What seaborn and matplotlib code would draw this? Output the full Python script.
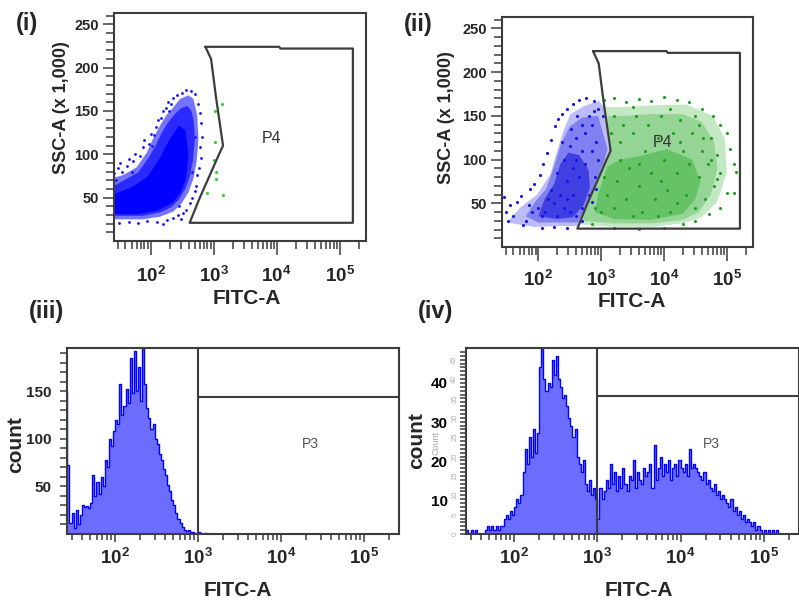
import numpy as np
import matplotlib
matplotlib.use('Agg')
import matplotlib.pyplot as plt
import seaborn as sns
from matplotlib.ticker import FixedLocator, FixedFormatter, NullFormatter

sns.set_theme(style='ticks')
plt.rcParams['font.family'] = ['Liberation Sans', 'DejaVu Sans']
plt.rcParams['mathtext.fontset'] = 'custom'
plt.rcParams['mathtext.rm'] = 'Liberation Sans'
plt.rcParams['mathtext.bf'] = 'Liberation Sans:bold'

# ---- data (x values are log10 FITC-A) ----
# P4 gate polygon (log10 FITC-A, SSC-A x1000)
gate_x = [2.87, 2.96, 3.04, 3.15, 3.08, 2.77, 2.62, 5.21, 5.21, 4.06, 4.04, 2.87]
gate_y = [224, 210, 165, 110, 99, 48, 21, 21, 222, 222, 224, 224]

# panel (i) - unstained cells: density layers of the blue cloud, stray dots
i_outer_x = [1.37, 1.37, 1.565, 1.78, 1.94, 2.04, 2.15, 2.25, 2.36, 2.47, 2.60, 2.68, 2.74, 2.76, 2.73,
             2.68, 2.60, 2.49, 2.36, 2.15, 1.88, 1.565]
i_outer_y = [25, 72, 76, 85, 102, 118, 133, 145, 154, 164, 168, 164, 145, 118, 91, 72, 56, 43, 34, 28, 25, 25]
i_mid_x = [1.38, 1.38, 1.58, 1.80, 1.97, 2.08, 2.18, 2.28, 2.38, 2.48, 2.58, 2.65, 2.69, 2.70, 2.67, 2.62,
           2.55, 2.45, 2.33, 2.15, 1.88, 1.60]
i_mid_y = [29, 62, 70, 79, 96, 110, 125, 137, 146, 153, 156, 150, 135, 115, 92, 74, 60, 48, 39, 33, 29, 29]
i_core_x = [1.42, 1.42, 1.70, 1.95, 2.15, 2.30, 2.45, 2.55, 2.60, 2.56, 2.48, 2.35, 2.10, 1.80]
i_core_y = [31, 54, 62, 74, 96, 117, 133, 128, 100, 72, 56, 44, 35, 31]
i_blue_dots = [(1.42, 78), (1.40, 92), (1.48, 84), (1.55, 80), (1.52, 90), (1.62, 86), (1.66, 95), (1.72, 92),
               (1.76, 100), (1.84, 98), (1.88, 108), (1.90, 116), (1.97, 112), (2.00, 124), (2.05, 122),
               (2.08, 132), (2.12, 140), (2.17, 142), (2.20, 150), (2.24, 153), (2.28, 160), (2.33, 158),
               (2.36, 165), (2.42, 168), (2.50, 171), (2.56, 174), (2.64, 173), (2.70, 169), (2.76, 158),
               (2.78, 148), (2.80, 136), (2.82, 120), (2.79, 108), (2.80, 96), (2.77, 84), (2.74, 76),
               (2.72, 64), (2.70, 58), (2.66, 50), (2.62, 44), (2.56, 36), (2.52, 32), (2.44, 30), (2.36, 27),
               (2.26, 24), (2.10, 22), (1.95, 23), (1.80, 21), (1.66, 22), (1.50, 21), (2.48, 25), (2.20, 20),
               (1.45, 70), (1.70, 80), (2.02, 110), (2.30, 150), (2.71, 120), (2.66, 80), (2.45, 40)]
i_green_dots = [(3.13, 158), (3.02, 150), (3.02, 114), (3.00, 93), (3.04, 80), (3.04, 72), (2.89, 55), (3.15, 53)]

# panel (ii) - stained cells: blue (left of gate) and green (inside P4) density layers
ii_blue_outer_x = [1.50, 1.71, 1.98, 2.19, 2.30, 2.40, 2.51, 2.72, 2.96, 3.04, 3.13, 3.06, 2.76, 2.62, 2.35, 1.93]
ii_blue_outer_y = [28, 45, 60, 83, 110, 133, 152, 161, 167, 160, 110, 99, 48, 24, 24, 23]
ii_blue_mid_x = [1.80, 1.95, 2.12, 2.25, 2.36, 2.50, 2.70, 2.95, 3.10, 3.05, 2.77, 2.63, 2.30, 2.00]
ii_blue_mid_y = [35, 52, 66, 92, 118, 138, 148, 150, 112, 99, 50, 28, 28, 28]
ii_blue_core_x = [2.00, 2.10, 2.25, 2.35, 2.48, 2.65, 2.80, 2.82, 2.72, 2.55, 2.30]
ii_blue_core_y = [35, 55, 72, 95, 108, 105, 88, 68, 48, 34, 32]
ii_green_outer_x = [3.05, 3.15, 3.08, 2.77, 2.64, 3.20, 3.80, 4.30, 4.60, 4.85, 5.00, 4.97, 4.78, 4.35, 3.80, 3.35]
ii_green_outer_y = [160, 110, 99, 48, 26, 23, 23, 27, 34, 52, 85, 123, 150, 163, 162, 160]
ii_green_mid_x = [3.10, 3.13, 3.06, 2.80, 2.70, 3.20, 3.80, 4.30, 4.55, 4.75, 4.85, 4.80, 4.60, 4.30, 3.80, 3.40]
ii_green_mid_y = [150, 110, 99, 52, 30, 27, 27, 31, 40, 60, 90, 120, 143, 152, 152, 150]
ii_green_core_x = [3.10, 2.95, 2.90, 3.20, 3.78, 4.30, 4.50, 4.58, 4.45, 4.05, 3.62, 3.31]
ii_green_core_y = [92, 60, 40, 32, 31, 38, 55, 75, 100, 112, 104, 100]
ii_blue_dots = [(1.45, 57), (1.48, 40), (1.55, 48), (1.60, 35), (1.66, 52), (1.72, 58), (1.80, 30), (1.86, 66),
                (1.93, 72), (2.02, 82), (2.08, 95), (2.14, 108), (2.20, 122), (2.26, 138), (2.31, 146),
                (2.38, 152), (2.46, 158), (2.55, 163), (2.64, 168), (2.76, 170), (2.88, 167), (2.95, 158),
                (3.03, 150), (2.45, 22), (2.25, 23), (2.05, 22), (1.75, 25), (1.52, 30), (2.70, 30), (2.85, 52),
                (2.92, 66), (2.00, 45), (2.10, 40), (2.25, 50), (2.35, 60), (2.45, 75), (2.55, 90), (2.60, 100),
                (2.70, 110), (2.75, 130), (2.85, 140), (2.92, 120), (2.95, 100), (2.90, 80), (2.80, 60),
                (2.70, 45), (2.60, 35), (2.50, 40), (2.40, 45), (2.30, 35), (2.20, 65), (2.30, 85), (2.40, 100),
                (2.50, 115), (2.60, 125), (2.70, 140), (2.80, 150), (2.88, 155), (2.65, 80), (2.55, 60),
                (2.45, 55), (2.15, 55), (2.05, 35), (1.90, 40), (1.85, 48), (2.38, 120), (2.52, 135),
                (2.62, 150), (2.75, 95), (2.85, 110)]
ii_green_dots = [(3.05, 168), (3.20, 170), (3.40, 166), (3.60, 169), (3.80, 167), (4.00, 171), (4.20, 168),
                 (4.40, 166), (4.60, 158), (4.78, 150), (4.90, 140), (5.00, 130), (5.05, 112), (5.12, 95),
                 (5.15, 86), (5.12, 62), (5.00, 62), (4.90, 45), (4.72, 38), (4.50, 30), (4.30, 26), (4.00, 22),
                 (3.60, 21), (3.20, 22), (2.85, 26), (4.62, 125), (4.75, 100), (4.85, 78), (3.50, 160),
                 (4.10, 158), (3.10, 60), (3.20, 45), (3.25, 75), (3.30, 120), (3.35, 140), (3.40, 55),
                 (3.45, 90), (3.50, 130), (3.55, 150), (3.60, 70), (3.65, 40), (3.70, 110), (3.75, 140),
                 (3.80, 85), (3.85, 55), (3.90, 125), (3.95, 150), (4.00, 100), (4.05, 65), (4.10, 40),
                 (4.15, 130), (4.20, 85), (4.25, 145), (4.30, 110), (4.35, 60), (4.40, 95), (4.45, 130),
                 (4.50, 150), (4.55, 80), (4.60, 110), (4.65, 55), (4.70, 95), (4.75, 125), (4.80, 70),
                 (4.85, 105), (4.90, 85), (3.00, 40), (3.15, 130), (3.20, 150), (3.50, 35), (3.90, 35),
                 (4.20, 50), (4.50, 45), (3.30, 100), (3.60, 95), (3.95, 75), (4.25, 120), (4.55, 140),
                 (2.90, 45), (3.05, 80)]

# histograms: bins of 0.025 decades starting at 10^1.40
bin_w = 0.025
hist_start = 1.40
iii_counts = [150, 72, 12, 22, 6, 25, 10, 20, 30, 28, 29, 27, 33, 62, 40, 55, 42, 60, 50, 78,
              70, 100, 92, 108, 120, 116, 158, 125, 135, 152, 138, 185, 148, 192, 150, 176, 140, 195, 158, 132,
              122, 110, 116, 100, 95, 84, 78, 68, 62, 52, 45, 36, 30, 22, 16, 12, 7, 4, 3, 4,
              2, 2, 1, 0, 2, 1, 0, 1, 0]
iv_counts = [0, 1, 0, 1, 0, 1, 0, 0, 0, 0, 1, 2, 1, 2, 1, 2, 1, 2, 2, 4,
             5, 4, 6, 5, 7, 9, 8, 10, 16, 22, 18, 25, 20, 27, 21, 26, 43, 48, 40, 37,
             39, 38, 45, 41, 46, 40, 38, 35, 36, 33, 30, 28, 25, 27, 20, 18, 16, 19, 13, 11,
             14, 10, 12, 9, 4, 12, 9, 11, 14, 12, 18, 13, 16, 11, 15, 12, 17, 13, 11, 15,
             14, 19, 12, 16, 14, 13, 17, 15, 16, 18, 12, 23, 14, 17, 20, 15, 18, 16, 19, 14,
             17, 18, 15, 19, 17, 16, 18, 15, 22, 17, 18, 17, 16, 15, 14, 16, 13, 14, 12, 11,
             13, 10, 11, 9, 10, 9, 8, 7, 9, 6, 7, 5, 6, 4, 5, 3, 4, 3, 2, 3,
             1, 2, 1, 0, 1, 0, 1, 0, 1, 0, 1]
p3_gate_x = 1e3
iii_gate_y = 144
iv_gate_y = 35.5

decades = [1e2, 1e3, 1e4, 1e5]
decade_labels = [r'$\mathbf{10^{2}}$', r'$\mathbf{10^{3}}$', r'$\mathbf{10^{4}}$', r'$\mathbf{10^{5}}$']
minor_ticks = [m * 10.0 ** d for d in range(1, 6) for m in range(2, 10)]
x_lo, x_hi = 10 ** 1.42, 10 ** 5.418

BOX = '#3c3c3c'
W, H = 799, 606


def px_rect(l, t, r, b):
    return [l / W, 1 - b / H, (r - l) / W, (b - t) / H]


def ftext(x, y, s, **kw):
    fig.text(x / W, 1 - y / H, s, ha='center', va='center', **kw)


def style_box(ax):
    for s in ax.spines.values():
        s.set_color(BOX)
        s.set_linewidth(1.5)
    ax.tick_params(which='both', direction='out', color=BOX, width=1.1)
    ax.set_xlabel('')
    ax.set_ylabel('')


def fitc_axis(ax, major_len, minor_len, size, pad):
    ax.set_xscale('log')
    ax.set_xlim(x_lo, x_hi)
    ax.xaxis.set_major_locator(FixedLocator(decades))
    ax.xaxis.set_major_formatter(FixedFormatter(decade_labels))
    ax.xaxis.set_minor_locator(FixedLocator(minor_ticks))
    ax.xaxis.set_minor_formatter(NullFormatter())
    ax.tick_params(axis='x', which='major', length=major_len, labelsize=size, pad=pad)
    ax.tick_params(axis='x', which='minor', length=minor_len)


def ssc_axis(ax):
    ax.set_ylim(0, 263)
    ax.set_yticks([50, 100, 150, 200, 250])
    ax.set_yticklabels(['50', '100', '150', '200', '250'], fontweight='bold', fontsize=10.5)
    ax.yaxis.set_minor_locator(FixedLocator([v for v in range(0, 261, 10) if v % 50]))
    ax.tick_params(axis='y', which='major', length=8, pad=3)
    ax.tick_params(axis='y', which='minor', length=6)


def dot_plot(ax, layers, dots, label_pad):
    ax.set_xscale('log')
    for xs, ys, col in layers:
        ax.fill(10 ** np.array(xs), ys, color=col, lw=0, zorder=1)
    for pts, col, size in dots:
        arr = np.array(pts)
        sns.scatterplot(x=10 ** arr[:, 0], y=arr[:, 1], ax=ax, color=col, s=size,
                        linewidth=0, zorder=2)
    ax.plot(10 ** np.array(gate_x), gate_y, color=BOX, lw=1.6, zorder=3)
    fitc_axis(ax, 10, 6, 13.5, label_pad)
    ssc_axis(ax)
    style_box(ax)


def histogram(ax, counts, ymax, gate_y):
    n = len(counts)
    edges = hist_start + bin_w * np.arange(n + 1)
    centers = edges[:-1] + bin_w / 2
    sns.histplot(x=10 ** centers, weights=counts, bins=list(edges), log_scale=True, element='step',
                 fill=True, color='#6c6cff', alpha=1, edgecolor='#0000ff', linewidth=1.0, ax=ax)
    ax.axvline(p3_gate_x, color=BOX, lw=1.5)
    ax.plot([p3_gate_x, x_hi], [gate_y, gate_y], color=BOX, lw=1.5)
    ax.set_ylim(0, ymax)
    fitc_axis(ax, 6, 4.5, 13.5, 4)
    style_box(ax)


fig = plt.figure(figsize=(W / 100, H / 100), dpi=100)

# (i)
ax1 = fig.add_axes(px_rect(114, 13, 366, 241))
dot_plot(ax1,
         [(i_outer_x, i_outer_y, '#7474ff'), (i_mid_x, i_mid_y, '#2a2aff'), (i_core_x, i_core_y, '#0000ff')],
         [(i_blue_dots, '#1010ff', 4), (i_green_dots, '#33cc33', 5)], 8)
ax1.text(10 ** 3.92, 118, 'P4', fontsize=11.5, color='#333333', ha='center', va='center')

# (ii)
ax2 = fig.add_axes(px_rect(502, 17, 753, 247))
dot_plot(ax2,
         [(ii_blue_outer_x, ii_blue_outer_y, '#bcbcfa'), (ii_blue_mid_x, ii_blue_mid_y, '#8080f0'),
          (ii_blue_core_x, ii_blue_core_y, '#4040e2'),
          (ii_green_outer_x, ii_green_outer_y, '#c4e8c4'), (ii_green_mid_x, ii_green_mid_y, '#94d494'),
          (ii_green_core_x, ii_green_core_y, '#66c266')],
         [(ii_blue_dots, '#1414ee', 5), (ii_green_dots, '#1f9f1f', 5)], 6.5)
ax2.text(10 ** 3.97, 119, 'P4', fontsize=11.5, color='#333333', ha='center', va='center')

# (iii)
ax3 = fig.add_axes(px_rect(67, 348, 399, 534))
histogram(ax3, iii_counts, 195.5, iii_gate_y)
ax3.set_yticks([50, 100, 150])
ax3.set_yticklabels(['50', '100', '150'], fontweight='bold', fontsize=11)
ax3.yaxis.set_minor_locator(FixedLocator([v for v in range(10, 191, 10) if v % 50]))
ax3.tick_params(axis='y', which='both', length=5, pad=6)
ax3.text(10 ** 4.35, 95, 'P3', fontsize=10, color='#555555', ha='center', va='center')

# (iv)
ax4 = fig.add_axes(px_rect(466, 348, 798.5, 534))
histogram(ax4, iv_counts, 48, iv_gate_y)
ax4.set_yticks(range(0, 46, 5))
ax4.set_yticklabels([str(v) for v in range(0, 46, 5)], fontsize=5.5, color='#b0b0b0',
                    rotation=90, va='center')
ax4.yaxis.set_minor_locator(FixedLocator([v for v in range(1, 48) if v % 5]))
ax4.tick_params(axis='y', which='both', length=4, pad=1.5)
for v, lab in zip([8.2, 18.2, 28.5, 38.8], ['10', '20', '30', '40']):
    ax4.text(-0.055, v, lab, transform=ax4.get_yaxis_transform(), ha='right', va='center',
             fontsize=11, fontweight='bold', color='black')
ax4.text(10 ** 4.37, 23.3, 'P3', fontsize=10, color='#555555', ha='center', va='center')

# axis titles and panel labels
ftext(61.5, 107.5, 'SSC-A (x 1,000)', rotation=90, fontsize=13, fontweight='bold')
ftext(446.5, 117.5, 'SSC-A (x 1,000)', rotation=90, fontsize=13, fontweight='bold')
ftext(246.5, 299, 'FITC-A', fontsize=15, fontweight='bold')
ftext(632, 302, 'FITC-A', fontsize=15, fontweight='bold')
ftext(237.5, 590, 'FITC-A', fontsize=15, fontweight='bold')
ftext(638.5, 590.5, 'FITC-A', fontsize=15, fontweight='bold')
ftext(16, 445, 'count', rotation=90, fontsize=15, fontweight='bold')
ftext(436, 443, 'Count', rotation=90, fontsize=6.5, color='#a8a8a8')
ftext(417, 441, 'count', rotation=90, fontsize=15, fontweight='bold')
ftext(27, 23.5, '(i)', fontsize=17, fontweight='bold')
ftext(418, 24, '(ii)', fontsize=17, fontweight='bold')
ftext(46, 311, '(iii)', fontsize=17, fontweight='bold')
ftext(436, 311, '(iv)', fontsize=17, fontweight='bold')

fig.savefig('out.png', dpi=100)
